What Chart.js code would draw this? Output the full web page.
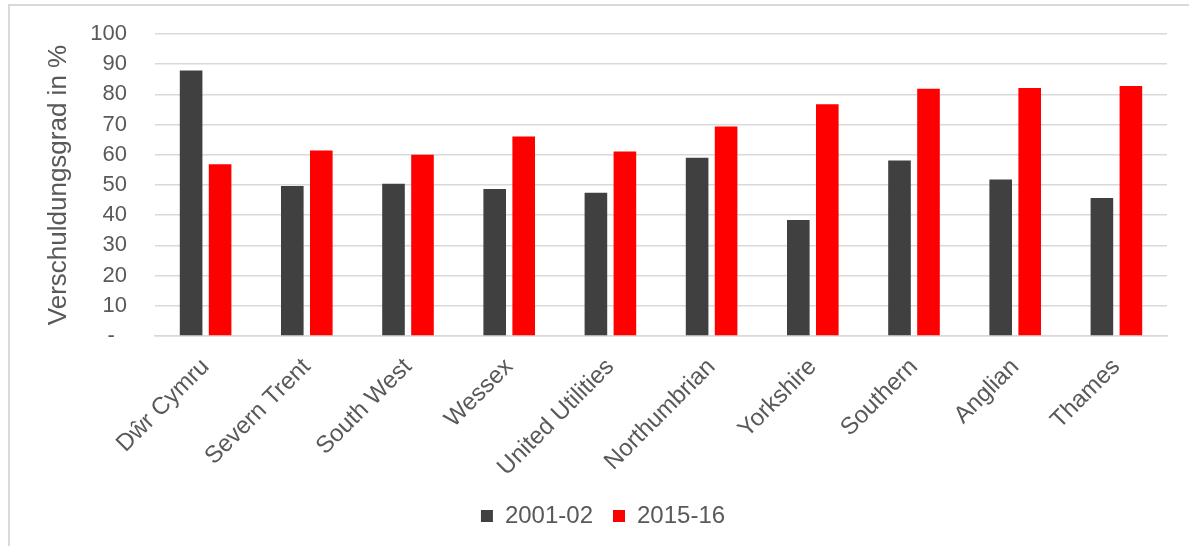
<!DOCTYPE html>
<html>
<head>
<meta charset="utf-8">
<script src="https://cdn.jsdelivr.net/npm/chart.js@4"></script>
<style>
  html, body { margin: 0; padding: 0; background: #fff; }
  #wrap { position: relative; width: 1189px; height: 546px; }
  #frame { position: absolute; left: 8px; top: 4px; width: 1200px; height: 560px; border: 2px solid #d9d9d9; pointer-events: none; }
</style>
</head>
<body>
<div id="wrap">
  <canvas id="chart" width="1189" height="546"></canvas>
  <div id="frame"></div>
</div>
<script>
// Werte
const companies = ['Dŵr Cymru', 'Severn Trent', 'South West', 'Wessex', 'United Utilities',
                   'Northumbrian', 'Yorkshire', 'Southern', 'Anglian', 'Thames'];
const values2001 = [87.9, 49.7, 50.4, 48.7, 47.4, 59.0, 38.4, 58.1, 51.8, 45.7];
const values2015 = [56.9, 61.4, 60.0, 66.1, 61.1, 69.4, 76.7, 81.9, 82.1, 82.8];
const seriesLabels = ['2001-02', '2015-16'];

const textColor = '#595959';
const gridColor = '#d9d9d9';
const fontFamily = '"Liberation Sans", Arial, sans-serif';

const ctx = document.getElementById('chart');
new Chart(ctx, {
    type: 'bar',
    data: {
        labels: companies,
        datasets: [
            { label: seriesLabels[0], data: values2001, backgroundColor: '#404040' },
            { label: seriesLabels[1], data: values2015, backgroundColor: '#ff0000' }
        ]
    },
    options: {
        responsive: false,
        animation: false,
        devicePixelRatio: 1,
        categoryPercentage: 0.573,
        barPercentage: 0.78,
        layout: { padding: { left: 39, top: 34, right: 22, bottom: 8 } },
        scales: {
            x: {
                grid: { display: false, drawTicks: false },
                border: { display: true, color: gridColor, width: 1.5 },
                ticks: {
                    color: textColor,
                    font: { family: fontFamily, size: 24 },
                    minRotation: 45,
                    maxRotation: 45,
                    autoSkip: false,
                    padding: 17
                },
                afterFit: (scale) => { scale.height = 148; }
            },
            y: {
                min: 0,
                max: 100,
                // unsichtbare Tick-Striche schaffen Abstand zwischen Beschriftung und Gitter
                grid: { color: gridColor, lineWidth: 1.5, drawTicks: true, tickLength: 25, tickColor: 'rgba(0,0,0,0)' },
                border: { display: false },
                ticks: {
                    stepSize: 10,
                    autoSkip: false,
                    color: textColor,
                    font: { family: fontFamily, size: 22 },
                    padding: 3,
                    callback: (v) => v === 0 ? '-  ' : v
                },
                title: {
                    display: true,
                    text: 'Verschuldungsgrad in %',
                    color: textColor,
                    font: { family: fontFamily, size: 26 }
                },
                afterFit: (scale) => { scale.width = 116; }
            }
        },
        plugins: {
            legend: {
                position: 'bottom',
                labels: {
                    color: textColor,
                    font: { family: fontFamily, size: 24 },
                    boxWidth: 12,
                    boxHeight: 12,
                    padding: 20
                }
            },
            tooltip: { enabled: false }
        }
    }
});
</script>
</body>
</html>
